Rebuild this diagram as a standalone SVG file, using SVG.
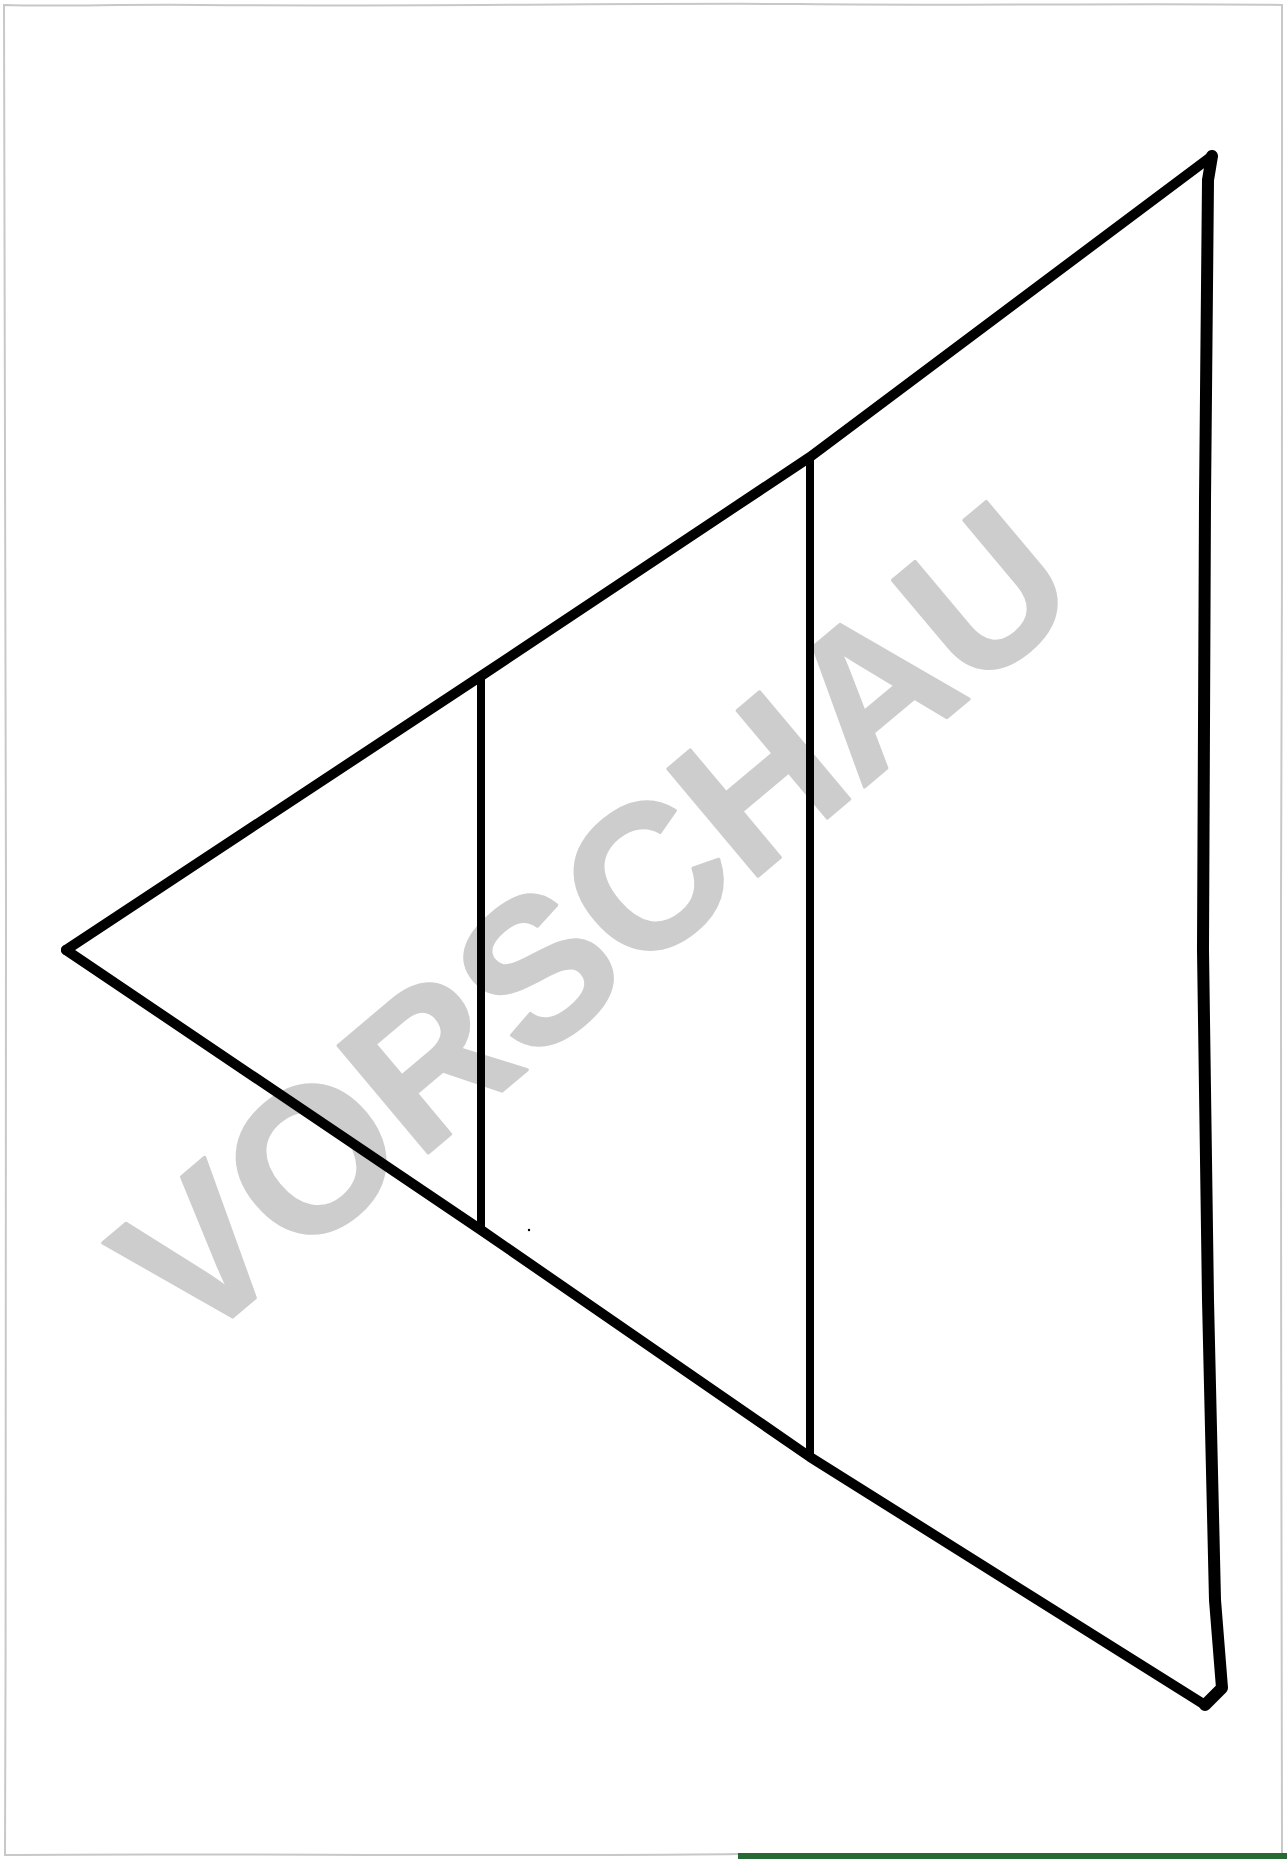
<svg xmlns="http://www.w3.org/2000/svg" width="1287" height="1859" viewBox="0 0 1287 1859">
  <style>
    .edge { fill: none; stroke: #000; stroke-linejoin: round; stroke-linecap: round; }
    .wm { font-family: "Liberation Sans", Arial, sans-serif; font-weight: bold; fill: #cdcdcd; stroke: #cdcdcd; stroke-width: 3; stroke-linejoin: round; }
  </style>
  <rect x="0" y="0" width="1287" height="1859" fill="#ffffff"/>
  <g id="border">
    <path d="M4,5 C60,7 120,4 200,5 C400,7 600,3 800,4 C1000,6 1150,3 1282,5 C1279,200 1284,600 1281,900 C1279,1200 1284,1600 1282,1855 C1000,1853 900,1856 738,1854 C500,1857 200,1853 5,1855 C7,1500 3,1100 6,900 C8,600 3,300 4,5 Z" fill="none" stroke="#c8c8c8" stroke-width="2"/>
    <rect x="738" y="1853" width="549" height="6" fill="#286a34"/>
  </g>
  <g id="watermark">
    <text class="wm" x="639" y="976" font-size="204" text-anchor="middle" transform="rotate(-40 639 976)">VORSCHAU</text>
  </g>
  <g id="connectors">
    <path class="edge" stroke-width="10" d="M66,950 L481,676 L810,457 L1212,156"/>
    <path class="edge" stroke-width="10" d="M66,950 L481,1230 L810,1457 L1205,1705"/>
    <path class="edge" stroke-width="12" d="M1212,156 L1208,180 L1205,500 L1203,950 L1208,1300 L1215,1600 L1222,1688 L1205,1705"/>
    <path class="edge" stroke-width="8" d="M481,676 L481,1230"/>
    <path class="edge" stroke-width="8" d="M810,457 L810,1457"/>
    <circle cx="529" cy="1230" r="1.2" fill="#000"/>
  </g>
</svg>
